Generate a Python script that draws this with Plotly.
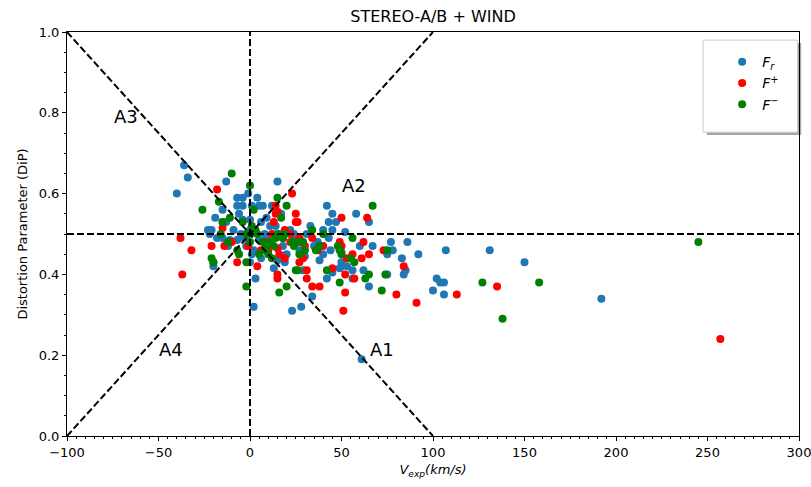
import plotly.graph_objects as go

# ---- data ----
fr_x = [-40, -36, -34, -22, -21, -20, -20, -19, -18, -15, -15, -15, -13, -13, -12, -11, -9, -7, -7, -7,
        -6, -5, -4, -4, -4, -3, -2, -1, 0, 0, 0, 1, 1, 2, 3, 4, 5, 5, 6, 7,
        8, 9, 10, 11, 12, 13, 15, 15, 16, 17, 18, 20, 22, 23, 25, 27, 28, 29, 30, 31,
        33, 34, 35, 37, 38, 40, 40, 42, 42, 43, 43, 44, 45, 45, 45, 47, 49, 50, 50, 50,
        52, 53, 56, 56, 58, 60, 61, 62, 65, 65, 67, 75, 75, 77, 78, 83, 84, 85, 86, 92,
        100, 102, 104, 106, 106, 107, 131, 150, 192, -23, 2, 6, 9, 14, 19, 24]
fr_y = [0.60, 0.67, 0.64, 0.50, 0.51, 0.43, 0.42, 0.54, 0.49, 0.56, 0.53, 0.49, 0.63, 0.53, 0.47, 0.485, 0.51, 0.59, 0.57, 0.485,
        0.55, 0.50, 0.59, 0.57, 0.535, 0.49, 0.47, 0.60, 0.535, 0.43, 0.51, 0.57, 0.45, 0.32, 0.39, 0.59, 0.57, 0.485, 0.53, 0.57,
        0.50, 0.54, 0.47, 0.52, 0.57, 0.415, 0.63, 0.435, 0.50, 0.55, 0.47, 0.45, 0.51, 0.31, 0.49, 0.46, 0.32, 0.41, 0.445, 0.50,
        0.52, 0.345, 0.47, 0.48, 0.435, 0.45, 0.51, 0.57, 0.39, 0.49, 0.53, 0.46, 0.55, 0.51, 0.405, 0.53, 0.415, 0.455, 0.43, 0.42,
        0.505, 0.42, 0.41, 0.39, 0.55, 0.47, 0.19, 0.41, 0.53, 0.37, 0.47, 0.45, 0.40, 0.48, 0.46, 0.44, 0.40, 0.41, 0.48, 0.45,
        0.36, 0.39, 0.38, 0.38, 0.35, 0.46, 0.46, 0.43, 0.34, 0.51, 0.46, 0.44, 0.49, 0.52, 0.43, 0.50]

fp_x = [-38, -37, -32, -21, -18, -15, -14, -10, -7, -1, 4, 6, 8, 10, 12, 13, 14, 14, 15, 15,
        15, 15, 16, 18, 19, 19, 22, 22, 23, 24, 25, 25, 26, 27, 27, 28, 29, 30, 31, 31,
        34, 34, 37, 38, 40, 45, 49, 50, 50, 51, 52, 52, 53, 56, 57, 61, 62, 64, 65, 73,
        80, 84, 91, 113, 135, 257]
fp_y = [0.49, 0.40, 0.46, 0.47, 0.61, 0.515, 0.47, 0.48, 0.43, 0.47, 0.42, 0.46, 0.48, 0.46, 0.50, 0.53, 0.57, 0.55, 0.465, 0.555,
        0.39, 0.40, 0.45, 0.49, 0.44, 0.51, 0.48, 0.50, 0.60, 0.48, 0.55, 0.53, 0.53, 0.49, 0.43, 0.48, 0.44, 0.47, 0.41, 0.39,
        0.37, 0.49, 0.46, 0.37, 0.47, 0.415, 0.48, 0.54, 0.47, 0.31, 0.40, 0.355, 0.44, 0.45, 0.39, 0.44, 0.48, 0.54, 0.45, 0.46,
        0.35, 0.42, 0.33, 0.35, 0.37, 0.24]

fm_x = [-26, -21, -20, -17, -16, -15, -12, -11, -10, -7, -6, -4, -2, -2, -2, 0, 0, 0, 1, 2,
        3, 4, 5, 7, 8, 9, 10, 11, 12, 13, 14, 15, 15, 16, 17, 18, 19, 20, 20, 23,
        24, 25, 26, 26, 27, 29, 30, 34, 36, 38, 40, 42, 48, 49, 49, 50, 55, 56, 57, 63,
        65, 67, 72, 74, 75, 127, 138, 158, 245]
fm_y = [0.56, 0.44, 0.43, 0.58, 0.50, 0.53, 0.48, 0.54, 0.65, 0.46, 0.45, 0.53, 0.43, 0.37, 0.50, 0.62, 0.50, 0.48, 0.52, 0.56,
        0.51, 0.50, 0.45, 0.48, 0.46, 0.47, 0.45, 0.48, 0.44, 0.47, 0.49, 0.59, 0.50, 0.355, 0.54, 0.49, 0.50, 0.57, 0.37, 0.48,
        0.47, 0.41, 0.41, 0.48, 0.45, 0.48, 0.46, 0.51, 0.46, 0.47, 0.50, 0.41, 0.47, 0.46, 0.38, 0.45, 0.44, 0.49, 0.43, 0.39,
        0.40, 0.57, 0.36, 0.40, 0.46, 0.38, 0.29, 0.38, 0.48]

x_ticks = [-100, -50, 0, 50, 100, 150, 200, 250, 300]
y_ticks = [0.0, 0.2, 0.4, 0.6, 0.8, 1.0]

# reference lines (x0, y0, x1, y1)
ref_lines = [(-100, 0.5, 300, 0.5), (0, 0, 0, 1), (-100, 1, 100, 0), (-100, 0, 100, 1)]
region_labels = ["A1", "A2", "A3", "A4"]
region_x = [72, 57, -68, -43]
region_y = [0.215, 0.62, 0.79, 0.215]

FONT = "DejaVu Sans"

fig = go.Figure()
for xs, ys, col, name in [(fr_x, fr_y, "#1f77b4", "<i>F<sub>r</sub></i>"),
                          (fp_x, fp_y, "#ff0000", "<i>F</i><sup>+</sup>"),
                          (fm_x, fm_y, "#008000", "<i>F</i><sup>−</sup>")]:
    fig.add_trace(go.Scatter(x=xs, y=ys, mode="markers", name=name,
                             marker=dict(color=col, size=8, line=dict(width=0))))

for (x0, y0, x1, y1) in ref_lines:
    fig.add_shape(type="line", x0=x0, y0=y0, x1=x1, y1=y1, xref="x", yref="y",
                  line=dict(color="black", width=2, dash="7px,3px"), layer="above")

for t, x, y in zip(region_labels, region_x, region_y):
    fig.add_annotation(x=x, y=y, text=t, showarrow=False,
                       font=dict(family=FONT, size=18, color="black"))

# legend frame with shadow (matplotlib style)
fig.add_shape(type="rect", xref="paper", yref="paper", x0=0.874, x1=1.003, y0=0.745, y1=0.973,
              line=dict(width=0), fillcolor="rgba(0,0,0,0.35)", layer="above")
fig.add_shape(type="rect", xref="paper", yref="paper", x0=0.869, x1=0.998, y0=0.752, y1=0.980,
              line=dict(width=1, color="#cccccc"), fillcolor="white", layer="above")

fig.update_layout(
    width=811, height=487,
    margin=dict(l=67, r=12, t=32, b=51, autoexpand=False),
    paper_bgcolor="white", plot_bgcolor="white",
    font=dict(family=FONT, size=13, color="black"),
    title=dict(text="STEREO-A/B + WIND", x=0.5, xref="paper", xanchor="center",
               y=0.967, yref="container", yanchor="middle",
               font=dict(family=FONT, size=16, color="black")),
    showlegend=True,
    legend=dict(x=0.895, y=0.965, xanchor="left", yanchor="top",
                bgcolor="rgba(0,0,0,0)", borderwidth=0,
                font=dict(family=FONT, size=14), tracegroupgap=0, itemwidth=30),
)

fig.update_xaxes(range=[-100, 300], tickvals=x_ticks, ticks="outside", ticklen=4,
                 tickcolor="black", showline=True, linecolor="black", linewidth=1,
                 mirror=True, showgrid=False, zeroline=False, ticklabeloverflow="allow",
                 automargin=False,
                 tickfont=dict(family=FONT, size=13),
                 minor=dict(dtick=5, tick0=0, ticks="outside", ticklen=2, tickcolor="black", showgrid=False),
                 title=dict(text="<i>V<sub>exp</sub>(km/s)</i>", font=dict(family=FONT, size=13), standoff=6))
fig.update_yaxes(range=[0, 1], tickvals=y_ticks, tickformat=".1f", ticks="outside", ticklen=4,
                 tickcolor="black", showline=True, linecolor="black", linewidth=1,
                 mirror=True, showgrid=False, zeroline=False, automargin=False,
                 tickfont=dict(family=FONT, size=13),
                 minor=dict(dtick=0.05, tick0=0, ticks="outside", ticklen=2, tickcolor="black", showgrid=False),
                 title=dict(text="Distortion Parameter (DiP)", font=dict(family=FONT, size=13), standoff=8))

fig.write_html("out.html")
